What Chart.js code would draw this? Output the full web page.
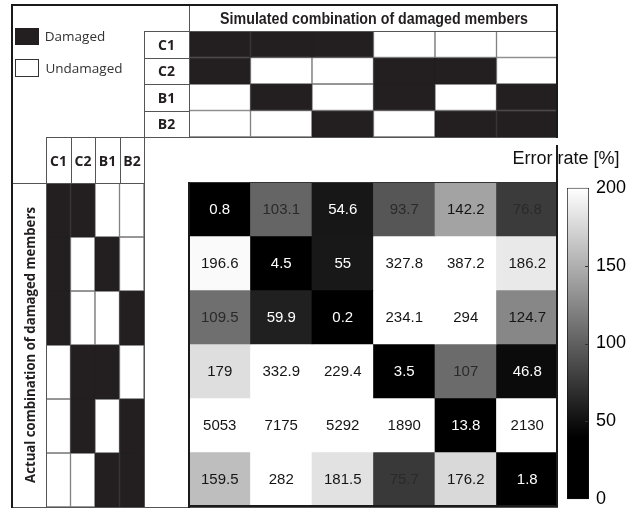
<!DOCTYPE html>
<html>
<head>
<meta charset="utf-8">
<script src="https://cdn.jsdelivr.net/npm/chart.js@4.4.1/dist/chart.umd.min.js"></script>
<style>
body{margin:0;background:#fff;width:638px;height:513px;position:relative;overflow:hidden;font-family:"Liberation Sans",Arial,sans-serif}
canvas{position:absolute}
.ln{position:absolute}
</style>
</head>
<body>
<canvas id="top" width="369" height="106" style="left:189px;top:31px"></canvas>
<canvas id="left" width="98" height="324" style="left:46px;top:183px"></canvas>
<canvas id="heat" width="369" height="324" style="left:189px;top:182px"></canvas>
<canvas id="bar" width="71" height="347" style="left:567px;top:170px"></canvas>
<script>
// simulated combinations (columns) and actual combinations (rows)
const combos = ['C1+C2','C1+B1','C1+B2','C2+B1','C2+B2','B1+B2'];
const members = ['C1','C2','B1','B2'];

// 1 = damaged, rows = members, columns = simulated combos
const simulatedDamage = [
  [1,1,1,0,0,0],
  [1,0,0,1,1,0],
  [0,1,0,1,0,1],
  [0,0,1,0,1,1]
];
// rows = actual combos, columns = members
const actualDamage = [
  [1,1,0,0],
  [1,0,1,0],
  [1,0,0,1],
  [0,1,1,0],
  [0,1,0,1],
  [0,0,1,1]
];
// error rate [%], rows = actual, columns = simulated
const errorRates = [
  [0.8,103.1,54.6,93.7,142.2,76.8],
  [196.6,4.5,55,327.8,387.2,186.2],
  [109.5,59.9,0.2,234.1,294,124.7],
  [179,332.9,229.4,3.5,107,46.8],
  [5053,7175,5292,1890,13.8,2130],
  [159.5,282,181.5,75.7,176.2,1.8]
];
const colorRange = [0,200];
const colorTicks = [0,50,100,150,200];

const BLACK = '#231f20';
const CELL_LINE = '#767676';

function gray(v){
  let t = (v-40)/160;
  t = Math.max(0,Math.min(1,t));
  const g = Math.round(t*255);
  return 'rgb('+g+','+g+','+g+')';
}

const baseOpts = (rows) => ({
  animation:false,
  responsive:false,
  events:[],
  layout:{padding:0},
  plugins:{legend:{display:false},tooltip:{enabled:false}},
  scales:{
    x:{display:false},
    y:{display:false,min:0,max:rows,reverse:true}
  }
});

function patternSets(rowCount, colorOf){
  let sets = [];
  for(let r=0;r<rowCount;r++){
    sets.push({
      data: colorOf.cols.map(()=>[r,r+1]),
      backgroundColor: colorOf.cols.map((c,j)=>colorOf.get(r,j)?BLACK:'#fff'),
      borderColor: colorOf.cols.map((c,j)=>colorOf.get(r,j)?BLACK:CELL_LINE),
      borderWidth:1,
      borderSkipped:false,
      grouped:false,
      barPercentage:1,
      categoryPercentage:1
    });
  }
  return sets;
}

// top pattern table
new Chart(document.getElementById('top'),{
  type:'bar',
  data:{labels:combos, datasets:patternSets(members.length,{cols:combos,get:(r,j)=>simulatedDamage[r][j]})},
  options:baseOpts(members.length)
});

// left pattern table
new Chart(document.getElementById('left'),{
  type:'bar',
  data:{labels:members, datasets:patternSets(combos.length,{cols:members,get:(r,j)=>actualDamage[r][j]})},
  options:baseOpts(combos.length)
});

// values written in the cells
const cellText = {
  id:'cellText',
  afterDatasetsDraw(chart){
    const ctx = chart.ctx;
    ctx.save();
    ctx.font = '15px "Liberation Sans", Arial, sans-serif';
    ctx.textAlign = 'center';
    ctx.textBaseline = 'middle';
    chart.data.datasets.forEach((ds,r)=>{
      chart.getDatasetMeta(r).data.forEach((bar,c)=>{
        const v = errorRates[r][c];
        const p = bar.getProps(['x','y','base'],true);
        ctx.fillStyle = v < 65 ? '#fff' : (v < 115 ? '#2a2a2a' : '#151515');
        ctx.fillText(String(v), p.x, (p.y+p.base)/2 + 1);
      });
    });
    ctx.restore();
  }
};

new Chart(document.getElementById('heat'),{
  type:'bar',
  data:{
    labels:combos,
    datasets:errorRates.map((row,r)=>({
      data: row.map(()=>[r,r+1]),
      backgroundColor: row.map(gray),
      borderWidth:0,
      grouped:false,
      barPercentage:1,
      categoryPercentage:1
    }))
  },
  options:baseOpts(combos.length),
  plugins:[cellText]
});

// colour bar
const innerTicks = {
  id:'innerTicks',
  afterDatasetsDraw(chart){
    const ctx = chart.ctx, y = chart.scales.y, a = chart.chartArea;
    ctx.save();
    ctx.strokeStyle = '#333';
    ctx.lineWidth = 1;
    colorTicks.slice(1,-1).forEach(v=>{
      const py = Math.round(y.getPixelForValue(v))+0.5;
      ctx.beginPath(); ctx.moveTo(a.right-4,py); ctx.lineTo(a.right-1,py); ctx.stroke();
    });
    ctx.restore();
  }
};

new Chart(document.getElementById('bar'),{
  type:'bar',
  data:{
    labels:[''],
    datasets:[{
      data:[colorRange],
      backgroundColor(c){
        const chart = c.chart;
        if(!chart.chartArea) return '#000';
        const y = chart.scales.y;
        const g = chart.ctx.createLinearGradient(0,y.getPixelForValue(colorRange[0]),0,y.getPixelForValue(colorRange[1]));
        g.addColorStop(0,gray(colorRange[0]));
        g.addColorStop(40/colorRange[1],gray(40));
        g.addColorStop(1,gray(colorRange[1]));
        return g;
      },
      borderColor:'#111',
      borderWidth:1,
      borderSkipped:false,
      barPercentage:1,
      categoryPercentage:1
    }]
  },
  options:{
    animation:false,
    responsive:false,
    events:[],
    layout:{padding:{top:12,bottom:11,left:0,right:0}},
    plugins:{legend:{display:false},tooltip:{enabled:false}},
    scales:{
      x:{display:false},
      y:{
        position:'right',
        min:colorRange[0], max:colorRange[1],
        afterBuildTicks:s=>{ s.ticks = colorTicks.map(v=>({value:v})); },
        afterFit:s=>{ s.width = 49; },
        grid:{display:false,drawTicks:false},
        border:{display:false},
        ticks:{padding:7,color:'#000',font:{family:'"Liberation Sans", Arial, sans-serif',size:18}}
      }
    }
  },
  plugins:[innerTicks]
});

// frame lines and labels of the figure
function line(x,y,w,h,color){
  const d = document.createElement('div');
  d.className = 'ln';
  d.style.cssText = 'left:'+x+'px;top:'+y+'px;width:'+w+'px;height:'+h+'px;background:'+color;
  document.body.appendChild(d);
}
const T = '#555', O = '#1a1a1a';
line(144,31,414,1,T);
line(189,5,1,132,T);
line(144,31,1,477,T);
[58,84,111].forEach(y=>line(144,y,45,1,T));
line(46,137,512,1,T);
line(46,137,1,371,T);
[71,95,120].forEach(x=>line(x,137,1,46,T));
line(12,183,132,1,T);
line(12,507,546,1,T);
// heatmap box
line(189,182,369,1,'#333');
line(188,182,2,326,O);
line(188,505,370,2,O);
line(556,182,2,325,O);
// outer frame
line(12,4,546,2,O);
line(11,4,2,504,O);
line(556,4,2,134,O);
line(556,145,2,40,O);

function text(str,x,y,css,width,rot){
  const el = document.createElement('div');
  el.textContent = str;
  el.style.cssText = 'position:absolute;white-space:nowrap;line-height:1;'+css;
  document.body.appendChild(el);
  const k = width ? width/el.offsetWidth : 1;
  el.style.left = x+'px';
  el.style.top = y+'px';
  el.style.transform = 'translate(-50%,-50%) rotate('+(rot||0)+'deg) scaleX('+k+')';
}
const bold = 'font-family:"Open Sans",sans-serif;font-weight:bold;font-size:14px;color:#231f20;';
text('Simulated combination of damaged members',374,19,'font-weight:bold;font-size:16px;color:#231f20;',308);
members.forEach((m,i)=>{
  text(m,166.5,44.5+i*26.5,bold);
  text(m,58.5+i*24.5,161,bold);
});
text('Actual combination of damaged members',30,345,'font-family:"Open Sans",sans-serif;font-weight:bold;font-size:14px;color:#231f20;',276,-90);
text('Error rate [%]',566,158,'font-size:18px;color:#111;',107);

// legend
line(15,28,24,17,BLACK);
line(15,59,24,18,'#333');
line(16,60,22,16,'#fff');
const lg = 'font-family:"Open Sans",sans-serif;font-size:13.5px;color:#333;';
text('Damaged',75,37,lg);
text('Undamaged',84,69,lg);
</script>
</body>
</html>
